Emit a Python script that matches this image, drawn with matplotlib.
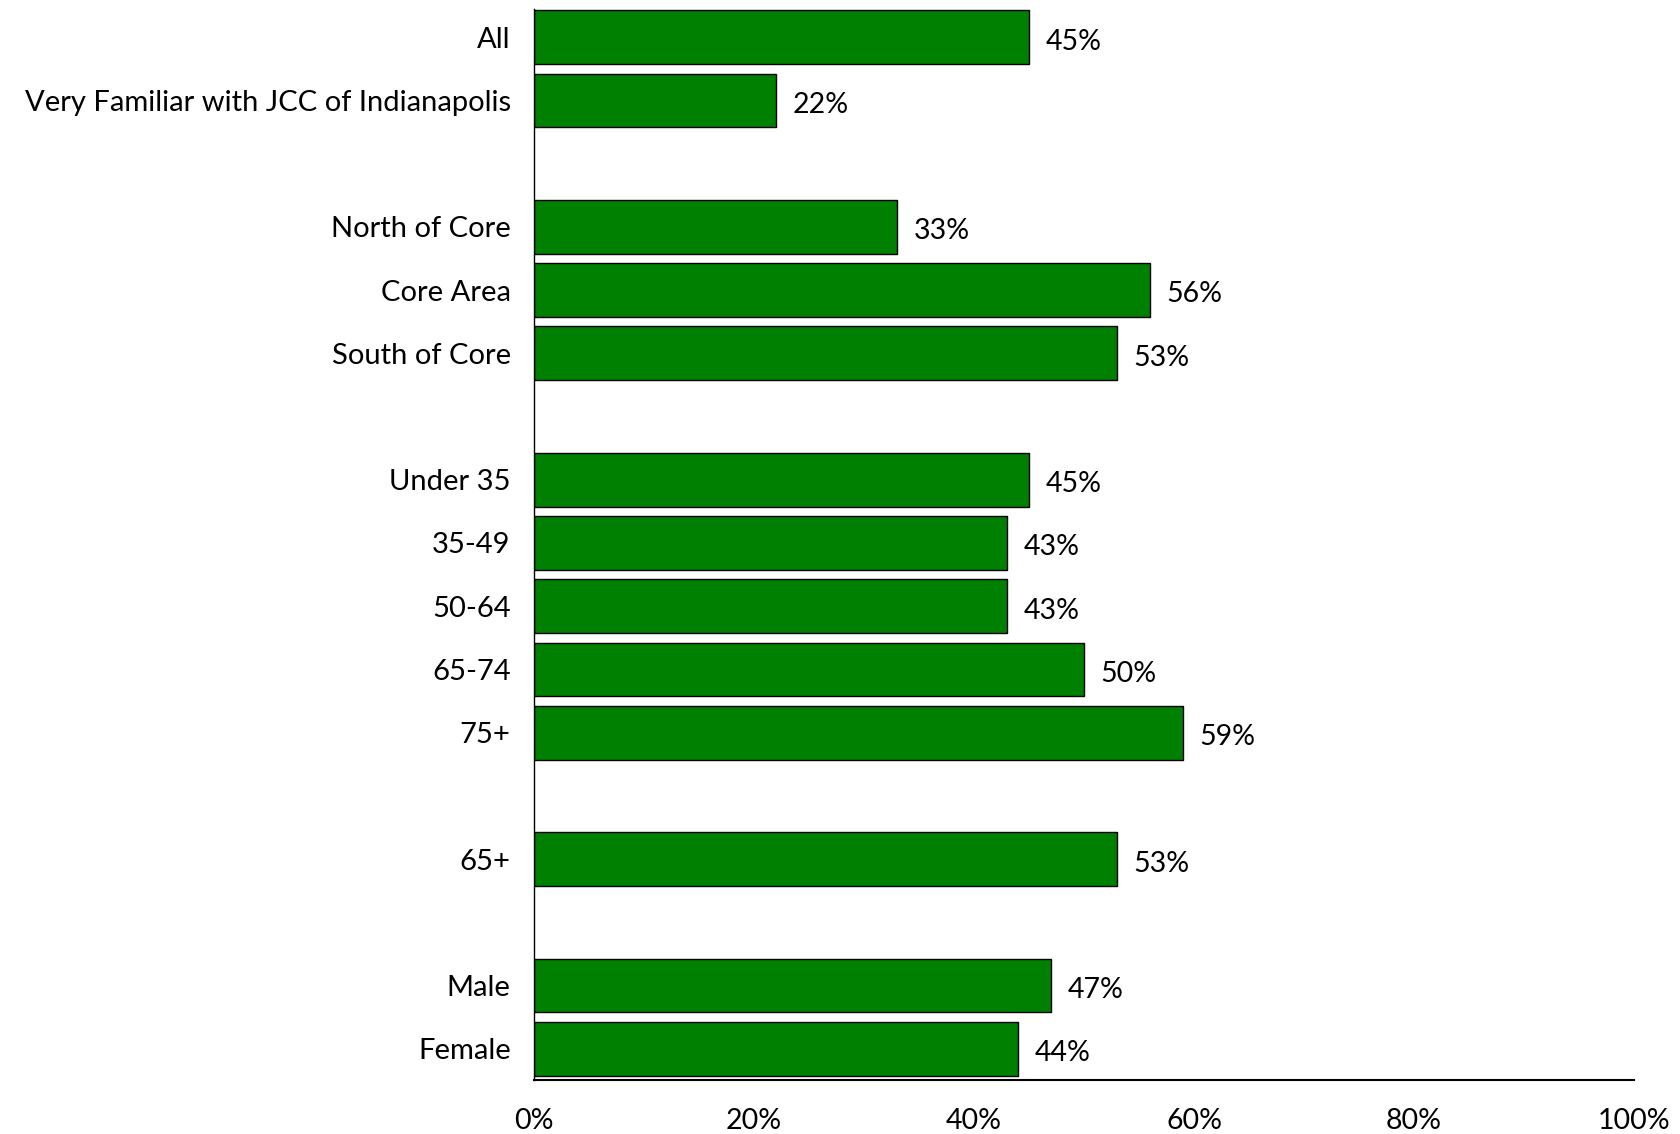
import matplotlib
matplotlib.use("Agg")
import matplotlib.pyplot as plt
import numpy as np

categories = ["All", "Very Familiar with JCC of Indianapolis", "",
              "North of Core", "Core Area", "South of Core", "",
              "Under 35", "35-49", "50-64", "65-74", "75+", "",
              "65+", "",
              "Male", "Female"]
values = [45, 22, None, 33, 56, 53, None, 45, 43, 43, 50, 59, None, 53, None, 47, 44]
xticks = [0, 20, 40, 60, 80, 100]
xtick_labels = ["0%", "20%", "40%", "60%", "80%", "100%"]

plt.rcParams['font.family'] = ['Lato', 'DejaVu Sans']

fig = plt.figure(figsize=(16.8, 11.34), dpi=100)
ax = fig.add_axes([0.318, 0.0473, 0.6546, 0.945])

pos = np.arange(len(categories))
for p, v in zip(pos, values):
    if v is None:
        continue
    ax.barh(p, v, height=0.85, color="#008000", edgecolor="black", linewidth=1.0)
    ax.text(v + 1.5, p + 0.07, f"{v}%", va="center", ha="left", fontsize=20.5)

ax.set_ylim(16.5, -0.45)
ax.set_xlim(0, 100)
ax.set_yticks(pos)
ax.set_yticklabels(categories, fontsize=21)
ax.set_xticks(xticks)
ax.set_xticklabels(xtick_labels, fontsize=20.5)
ax.tick_params(axis="both", length=0)
ax.tick_params(axis="y", pad=17)
ax.tick_params(axis="x", pad=20)
for s in ["top", "right"]:
    ax.spines[s].set_visible(False)
ax.spines["left"].set_linewidth(1.0)
ax.spines["bottom"].set_linewidth(1.5)

fig.savefig("out.png", dpi=100)
